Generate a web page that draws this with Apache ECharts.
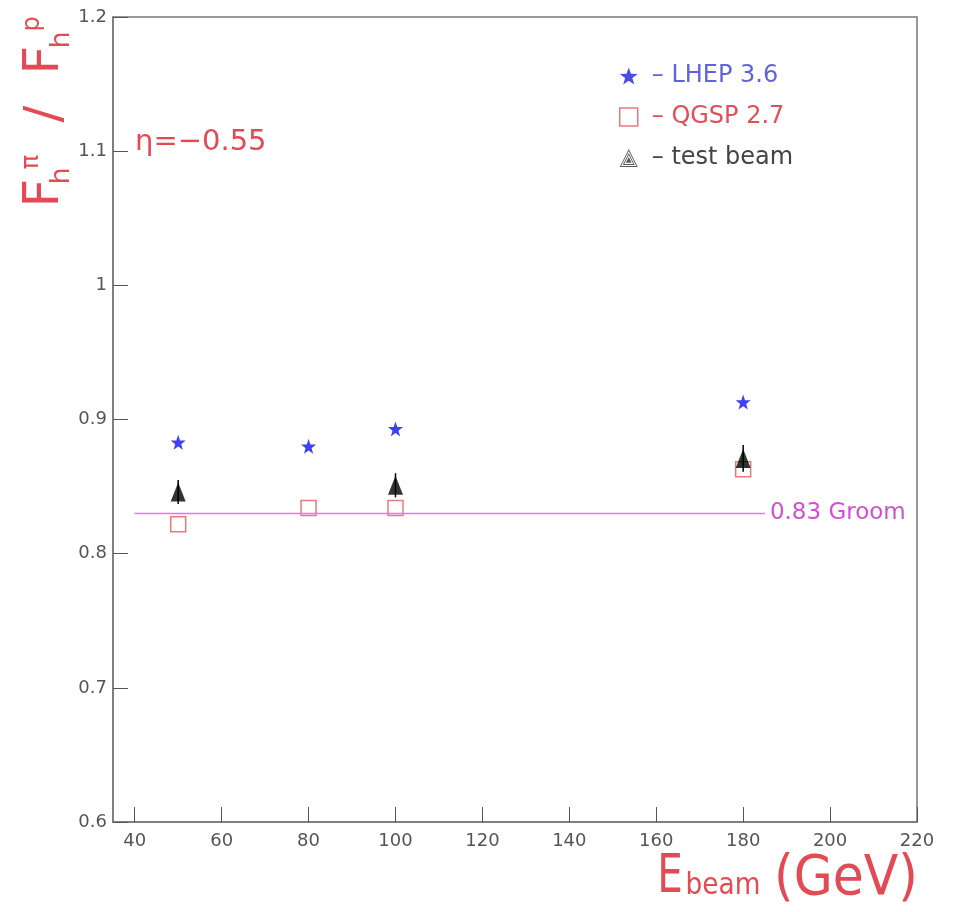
<!DOCTYPE html>
<html>
<head>
<meta charset="utf-8">
<script src="https://cdn.jsdelivr.net/npm/echarts@6/dist/echarts.min.js"></script>
<style>html,body{margin:0;padding:0;background:#fff;}#c{width:959px;height:912px;}</style>
</head>
<body>
<div id="c"></div>
<script>
// ---- data ----
const energies = [50, 80, 100, 180];
const lhep = [0.883, 0.880, 0.893, 0.913];
const qgsp = [0.822, 0.834, 0.834, 0.863];
const tbEnergies = [50, 100, 180];
const tbValues = [0.846, 0.851, 0.871];
const tbErrors = [0.009, 0.009, 0.010];
const groomX = [40, 185];
const groomValue = 0.83;
const xTicks = [40, 60, 80, 100, 120, 140, 160, 180, 200, 220];
const yTicks = [0.6, 0.7, 0.8, 0.9, 1.0, 1.1, 1.2];
const yTickLabels = ['0.6', '0.7', '0.8', '0.9', '1', '1.1', '1.2'];
const seriesNames = ['LHEP 3.6', 'QGSP 2.7', 'test beam'];

// ---- shapes ----
function starPath() {
  const pts = [];
  for (let i = 0; i < 10; i++) {
    const r = i % 2 ? 0.4 : 1;
    const a = -Math.PI / 2 + i * Math.PI / 5;
    pts.push((50 + 50 * r * Math.cos(a)).toFixed(2) + ',' + (50 + 50 * r * Math.sin(a)).toFixed(2));
  }
  return 'path://M' + pts.join('L') + 'Z';
}
function tri(s, cw) {
  const t = [50, 66 - 66 * s], br = [50 + 50 * s, 66 + 34 * s], bl = [50 - 50 * s, 66 + 34 * s];
  const seq = cw ? [t, br, bl] : [t, bl, br];
  return 'M' + seq.map(p => p[0].toFixed(1) + ',' + p[1].toFixed(1)).join('L') + 'Z';
}
const nestedTri = 'path://' + tri(1, true) + tri(0.84, false) + tri(0.66, true) + tri(0.5, false) + tri(0.32, true);
const STAR = starPath();

const RED = '#e24a54';
const FONT = 'DejaVu Sans';

const chart = echarts.init(document.getElementById('c'), null, {renderer: 'canvas'});

const option = {
  animation: false,
  backgroundColor: '#fff',
  grid: {left: 113, top: 17, width: 804, height: 805, show: true, borderColor: '#777', borderWidth: 1.5},
  xAxis: {
    type: 'value', min: 35, max: 220,
    axisLine: {show: true, lineStyle: {color: '#777', width: 1.5}},
    axisTick: {show: true, inside: true, length: 15, customValues: xTicks, lineStyle: {color: '#555', width: 1}},
    axisLabel: {customValues: xTicks, margin: 10, fontSize: 18, color: '#555', fontFamily: FONT},
    splitLine: {show: false}
  },
  yAxis: {
    type: 'value', min: 0.6, max: 1.2,
    axisLine: {show: true, lineStyle: {color: '#777', width: 1.5}},
    axisTick: {show: true, inside: true, length: 15, customValues: yTicks, lineStyle: {color: '#555', width: 1}},
    axisLabel: {
      customValues: yTicks, margin: 6, fontSize: 18, color: '#555', fontFamily: FONT,
      formatter: v => { const i = yTicks.findIndex(t => Math.abs(t - v) < 1e-9); return i >= 0 ? yTickLabels[i] : ''; }
    },
    splitLine: {show: false}
  },
  legend: {
    orient: 'vertical', left: 614, top: 59,
    itemWidth: 18, itemHeight: 18, itemGap: 17,
    formatter: n => '\u2013 ' + n,
    textStyle: {fontSize: 24, fontFamily: FONT, padding: [0, 0, 0, 9]},
    data: [
      {name: seriesNames[0], icon: STAR, itemStyle: {color: '#2020e0'}, textStyle: {color: '#6262dc'}},
      {name: seriesNames[1], icon: 'rect', itemStyle: {color: 'rgba(0,0,0,0)', borderColor: '#e05a5a', borderWidth: 1.5}, textStyle: {color: '#e05058'}},
      {name: seriesNames[2], icon: nestedTri, itemStyle: {color: '#333'}, textStyle: {color: '#444'}}
    ]
  },
  series: [
    {
      name: 'Groom', type: 'line', symbol: 'none', silent: true,
      data: groomX.map(x => [x, groomValue]),
      lineStyle: {color: '#f56cf5', width: 1.5},
      endLabel: {show: true, formatter: '0.83 Groom', color: '#d14fd1', fontSize: 23, fontFamily: FONT, distance: 5}
    },
    {
      name: seriesNames[1], type: 'scatter', symbol: 'rect', symbolSize: 15,
      data: energies.map((x, i) => [x, qgsp[i]]),
      itemStyle: {color: 'rgba(0,0,0,0)', borderColor: '#e05a5a', borderWidth: 1.5}
    },
    {
      name: 'test beam errors', type: 'custom',
      data: tbEnergies.map((x, i) => [x, tbValues[i], tbErrors[i]]),
      encode: {x: 0, y: 1},
      renderItem: (params, api) => {
        const x = api.value(0), y = api.value(1), e = api.value(2);
        const p1 = api.coord([x, y - e]), p2 = api.coord([x, y + e]);
        return {type: 'line', shape: {x1: p1[0], y1: p1[1], x2: p2[0], y2: p2[1]}, style: {stroke: '#000', lineWidth: 1.5}};
      },
      z: 3
    },
    {
      name: seriesNames[2], type: 'scatter', symbol: 'triangle', symbolSize: [15, 19],
      data: tbEnergies.map((x, i) => [x, tbValues[i]]),
      itemStyle: {color: '#000'}, z: 4
    },
    {
      name: seriesNames[0], type: 'scatter', symbol: STAR, symbolSize: 15,
      data: energies.map((x, i) => [x, lhep[i]]),
      itemStyle: {color: '#1010f0'}
    }
  ],
  graphic: [
    {type: 'text', x: 135, y: 142, style: {text: '\u03b7=\u22120.55', fill: RED, fontSize: 29, fontFamily: FONT, align: 'left', verticalAlign: 'middle'}},
    // y-axis title F_h^pi / F_h^p (rotated)
    {type: 'text', x: 45, y: 193, rotation: Math.PI / 2, style: {text: 'F', fill: RED, fontSize: 50, fontFamily: FONT, align: 'center', verticalAlign: 'middle'}},
    {type: 'text', x: 62, y: 176, rotation: Math.PI / 2, style: {text: 'h', fill: RED, fontSize: 27, fontFamily: FONT, align: 'center', verticalAlign: 'middle'}},
    {type: 'text', x: 32, y: 162, rotation: Math.PI / 2, style: {text: '\u03c0', fill: RED, fontSize: 24, fontFamily: FONT, align: 'center', verticalAlign: 'middle'}},
    {type: 'text', x: 46, y: 114, rotation: Math.PI / 2, style: {text: '/', fill: RED, fontSize: 50, fontFamily: FONT, align: 'center', verticalAlign: 'middle'}},
    {type: 'text', x: 45, y: 60, rotation: Math.PI / 2, style: {text: 'F', fill: RED, fontSize: 50, fontFamily: FONT, align: 'center', verticalAlign: 'middle'}},
    {type: 'text', x: 62, y: 40, rotation: Math.PI / 2, style: {text: 'h', fill: RED, fontSize: 27, fontFamily: FONT, align: 'center', verticalAlign: 'middle'}},
    {type: 'text', x: 33, y: 24, rotation: Math.PI / 2, style: {text: 'p', fill: RED, fontSize: 24, fontFamily: FONT, align: 'center', verticalAlign: 'middle'}},
    // x-axis title E_beam (GeV)
    {type: 'text', x: 670, y: 878, scaleX: 0.75, style: {text: 'E', fill: RED, fontSize: 54, fontFamily: FONT, align: 'center', verticalAlign: 'middle'}},
    {type: 'text', x: 723, y: 886, scaleX: 0.88, style: {text: 'beam', fill: RED, fontSize: 30, fontFamily: FONT, align: 'center', verticalAlign: 'middle'}},
    {type: 'text', x: 846, y: 879, scaleX: 0.9, style: {text: '(GeV)', fill: RED, fontSize: 56, fontFamily: FONT, align: 'center', verticalAlign: 'middle'}}
  ]
};
chart.setOption(option);
</script>
</body>
</html>
